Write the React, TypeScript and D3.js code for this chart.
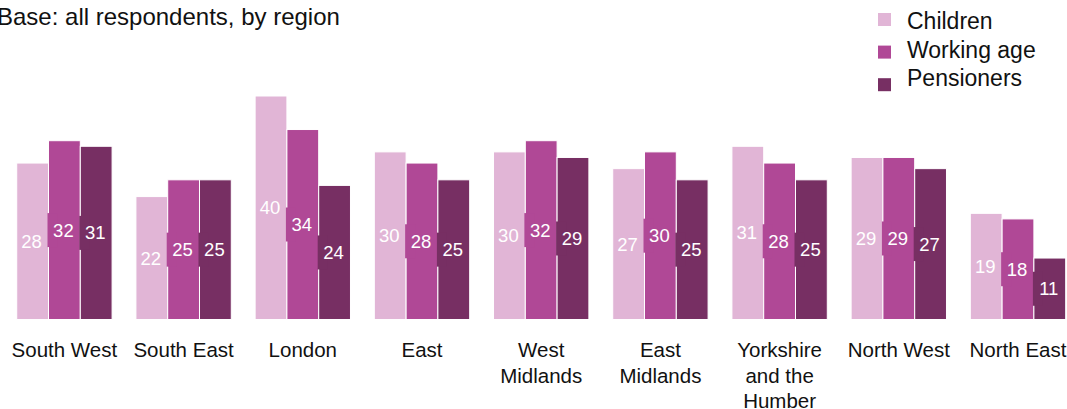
import React, { useEffect, useRef } from 'react';
import * as d3 from 'd3';

// regions, in the order they appear on the chart
const regions = [
  'South West', 'South East', 'London', 'East', 'West Midlands',
  'East Midlands', 'Yorkshire and the Humber', 'North West', 'North East',
];
// the category labels are wrapped by hand like the original
const regionLines = [
  ['South West'], ['South East'], ['London'], ['East'], ['West', 'Midlands'],
  ['East', 'Midlands'], ['Yorkshire', 'and the', 'Humber'], ['North West'], ['North East'],
];

const seriesNames = ['Children', 'Working age', 'Pensioners'];
const seriesColors = ['#e1b5d6', '#b04896', '#772f63'];

const children = [28, 22, 40, 30, 30, 27, 31, 29, 19];
const workingAge = [32, 25, 34, 28, 32, 30, 28, 29, 18];
const pensioners = [31, 25, 24, 25, 29, 25, 25, 27, 11];

const title = 'Base: all respondents, by region';

export default function App() {
  const ref = useRef<SVGSVGElement>(null);

  useEffect(() => {
    const svg = d3.select(ref.current);
    svg.selectAll('*').remove();

    const width = 1067;
    const height = 409;
    const font = '"Liberation Sans", Arial, sans-serif';

    const values = [children, workingAge, pensioners];
    const rows = regions.map((r, i) => ({
      region: r,
      vals: seriesNames.map((s, k) => ({ key: s, k, value: values[k][i] })),
    }));

    const x0 = d3.scaleBand()
      .domain(regions)
      .range([4.8, 1077.6])
      .paddingInner(0.2)
      .paddingOuter(0.1);

    const x1 = d3.scaleBand()
      .domain(seriesNames)
      .range([0, x0.bandwidth()]);

    const y = d3.scaleLinear()
      .domain([0, 40])
      .range([319.5, 96]);

    svg.attr('width', width).attr('height', height);

    // title, slightly cut off on the left as in the source
    svg.append('text')
      .attr('x', -3)
      .attr('y', 25)
      .attr('font-family', font)
      .attr('font-size', 24)
      .attr('fill', '#111')
      .text(title);

    const groups = svg.selectAll('g.group')
      .data(rows)
      .enter().append('g')
      .attr('class', 'group')
      .attr('transform', d => `translate(${x0(d.region)},0)`);

    groups.selectAll('rect.bar')
      .data(d => d.vals)
      .enter().append('rect')
      .attr('class', 'bar')
      .attr('x', d => x1(d.key)!)
      .attr('y', d => y(d.value))
      .attr('width', x1.bandwidth())
      .attr('height', d => y(0) - y(d.value))
      .attr('fill', d => seriesColors[d.k])
      .attr('stroke', '#fff')
      .attr('stroke-width', 1);

    // small background behind each value label (covers the gap line)
    groups.selectAll('rect.lab')
      .data(d => d.vals.filter(v => v.k > 0))
      .enter().append('rect')
      .attr('class', 'lab')
      .attr('x', d => x1(d.key)! - 1)
      .attr('y', d => y(d.value / 2) - 17)
      .attr('width', 10)
      .attr('height', 34)
      .attr('fill', d => seriesColors[d.k]);

    groups.selectAll('text.val')
      .data(d => d.vals)
      .enter().append('text')
      .attr('class', 'val')
      .attr('x', d => x1(d.key)! + x1.bandwidth() / 2 - 1)
      .attr('y', d => y(d.value / 2))
      .attr('dy', '0.35em')
      .attr('text-anchor', 'middle')
      .attr('font-family', font)
      .attr('font-size', 18.5)
      .attr('fill', '#fff')
      .text(d => d.value);

    // category labels
    const cats = svg.append('g');
    regions.forEach((r, i) => {
      const t = cats.append('text')
        .attr('x', x0(r)! + x0.bandwidth() / 2)
        .attr('y', 357)
        .attr('text-anchor', 'middle')
        .attr('font-family', font)
        .attr('font-size', 20.5)
        .attr('fill', '#111');
      regionLines[i].forEach((line, j) => {
        t.append('tspan')
          .attr('x', x0(r)! + x0.bandwidth() / 2)
          .attr('dy', j === 0 ? 0 : 25.5)
          .text(line);
      });
    });

    // legend
    const legend = svg.append('g');
    seriesNames.forEach((s, i) => {
      legend.append('rect')
        .attr('x', 878)
        .attr('y', 13 + i * 32.6)
        .attr('width', 13)
        .attr('height', 13)
        .attr('fill', seriesColors[i]);
      legend.append('text')
        .attr('x', 907)
        .attr('y', 29.3 + i * 28.3)
        .attr('font-family', font)
        .attr('font-size', 23)
        .attr('fill', '#111')
        .text(s);
    });
  }, []);

  return (
    <div style={{ position: 'absolute', left: 0, top: 0 }}>
      <svg ref={ref} style={{ display: 'block' }}></svg>
    </div>
  );
}
